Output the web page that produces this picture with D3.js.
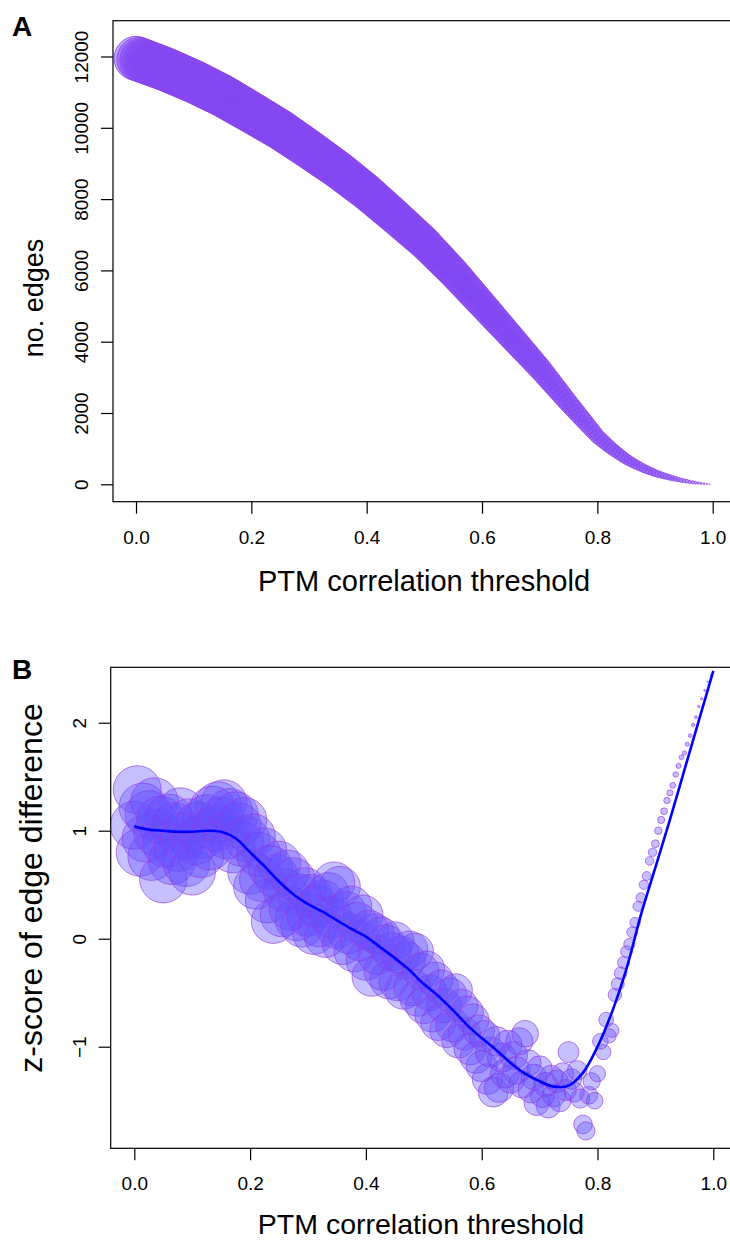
<!DOCTYPE html>
<html>
<head>
<meta charset="utf-8">
<script src="https://cdn.jsdelivr.net/npm/d3@7"></script>
<style>
  body { margin: 0; background: #fff; }
  svg { display: block; font-family: "Liberation Sans", Arial, Helvetica, sans-serif; }
</style>
</head>
<body>
<svg id="chart"></svg>
<script>
// PTM correlation thresholds (shared by both panels)
const thresholds = [
  0, 0.005, 0.01, 0.015, 0.02, 0.025, 0.03, 0.035, 0.04, 0.045,
  0.05, 0.055, 0.06, 0.065, 0.07, 0.075, 0.08, 0.085, 0.09, 0.095,
  0.1, 0.105, 0.11, 0.115, 0.12, 0.125, 0.13, 0.135, 0.14, 0.145,
  0.15, 0.155, 0.16, 0.165, 0.17, 0.175, 0.18, 0.185, 0.19, 0.195,
  0.2, 0.205, 0.21, 0.215, 0.22, 0.225, 0.23, 0.235, 0.24, 0.245,
  0.25, 0.255, 0.26, 0.265, 0.27, 0.275, 0.28, 0.285, 0.29, 0.295,
  0.3, 0.305, 0.31, 0.315, 0.32, 0.325, 0.33, 0.335, 0.34, 0.345,
  0.35, 0.355, 0.36, 0.365, 0.37, 0.375, 0.38, 0.385, 0.39, 0.395,
  0.4, 0.405, 0.41, 0.415, 0.42, 0.425, 0.43, 0.435, 0.44, 0.445,
  0.45, 0.455, 0.46, 0.465, 0.47, 0.475, 0.48, 0.485, 0.49, 0.495,
  0.5, 0.505, 0.51, 0.515, 0.52, 0.525, 0.53, 0.535, 0.54, 0.545,
  0.55, 0.555, 0.56, 0.565, 0.57, 0.575, 0.58, 0.585, 0.59, 0.595,
  0.6, 0.605, 0.61, 0.615, 0.62, 0.625, 0.63, 0.635, 0.64, 0.645,
  0.65, 0.655, 0.66, 0.665, 0.67, 0.675, 0.68, 0.685, 0.69, 0.695,
  0.7, 0.705, 0.71, 0.715, 0.72, 0.725, 0.73, 0.735, 0.74, 0.745,
  0.75, 0.755, 0.76, 0.765, 0.77, 0.775, 0.78, 0.785, 0.79, 0.795,
  0.8, 0.805, 0.81, 0.815, 0.82, 0.825, 0.83, 0.835, 0.84, 0.845,
  0.85, 0.855, 0.86, 0.865, 0.87, 0.875, 0.88, 0.885, 0.89, 0.895,
  0.9, 0.905, 0.91, 0.915, 0.92, 0.925, 0.93, 0.935, 0.94, 0.945,
  0.95, 0.955, 0.96, 0.965, 0.97, 0.975, 0.98, 0.985, 0.99, 0.995,
  1
];

// panel A: number of edges at each threshold
const edges = [
  11950, 11921, 11889, 11862, 11830, 11801, 11770, 11742, 11711, 11680,
  11650, 11616, 11582, 11545, 11511, 11475, 11441, 11405, 11371, 11335,
  11300, 11262, 11221, 11180, 11141, 11100, 11061, 11020, 10980, 10941,
  10900, 10854, 10807, 10760, 10712, 10666, 10619, 10572, 10524, 10478,
  10430, 10383, 10334, 10286, 10238, 10190, 10142, 10094, 10046, 9998,
  9950, 9896, 9840, 9785, 9730, 9676, 9620, 9566, 9510, 9455,
  9400, 9343, 9286, 9229, 9172, 9115, 9058, 9001, 8944, 8887,
  8830, 8767, 8704, 8641, 8578, 8515, 8452, 8389, 8326, 8263,
  8200, 8130, 8060, 7990, 7920, 7850, 7780, 7710, 7640, 7570,
  7500, 7428, 7356, 7284, 7212, 7140, 7068, 6996, 6924, 6852,
  6780, 6697, 6614, 6531, 6448, 6365, 6282, 6199, 6116, 6033,
  5950, 5860, 5770, 5680, 5590, 5500, 5410, 5320, 5230, 5140,
  5050, 4960, 4870, 4780, 4690, 4600, 4510, 4420, 4330, 4240,
  4150, 4060, 3970, 3880, 3790, 3700, 3610, 3520, 3430, 3340,
  3250, 3153, 3056, 2959, 2862, 2765, 2668, 2571, 2474, 2377,
  2280, 2187, 2094, 2001, 1908, 1815, 1722, 1629, 1536, 1443,
  1350, 1277, 1206, 1137, 1070, 1005, 942, 881, 822, 765,
  710, 662, 616, 572, 530, 490, 452, 416, 382, 350,
  315, 289, 264, 240, 217, 195, 174, 154, 135, 117,
  100, 85, 71, 58, 46, 35, 25, 17, 10, 4,
  0
];

// panel B: z-score of edge difference at each threshold
const zScores = [
  1.05, 1.38, 0.80, 1.22, 0.93, 1.15, 0.76, 1.27, 0.98, 1.10,
  0.55, 0.88, 1.12, 0.72, 1.04, 0.84, 1.18, 0.95, 0.70, 1.08,
  0.62, 0.90, 1.05, 0.78, 0.96, 1.12, 0.85, 1.20, 1.02, 1.24,
  1.10, 1.26, 0.95, 1.18, 0.82, 1.15, 1.05, 0.88, 1.10, 0.92,
  0.62, 0.95, 0.48, 0.78, 0.55, 0.82, 0.35, 0.66, 0.16, 0.58,
  0.70, 0.22, 0.45, 0.62, 0.28, 0.55, 0.18, 0.40, 0.12, 0.46,
  0.22, 0.40, 0.05, 0.30, 0.12, 0.35, 0.02, 0.42, 0.20, 0.52,
  0.10, 0.48, -0.05, 0.25, 0.05, 0.30, -0.12, 0.15, -0.02, 0.22,
  -0.20, 0.08, -0.35, 0.05, -0.15, 0.02, -0.30, -0.05, -0.38, -0.12,
  -0.02, -0.40, -0.15, -0.48, -0.20, -0.10, -0.45, -0.12, -0.55, -0.30,
  -0.62, -0.28, -0.50, -0.70, -0.38, -0.78, -0.45, -0.62, -0.85, -0.52,
  -0.80, -0.48, -0.95, -0.62, -0.88, -0.68, -1.02, -0.75, -1.10, -0.85,
  -1.18, -0.90, -1.30, -1.05, -1.42, -0.95, -1.38, -1.10, -1.25, -0.98,
  -1.30, -1.08, -1.22, -0.95, -1.35, -0.88, -1.15, -1.40, -1.28, -1.52,
  -1.20, -1.45, -1.35, -1.55, -1.28, -1.45, -1.32, -1.50, -1.25, -1.40,
  -1.05, -1.30, -1.42, -1.22, -1.48, -1.72, -1.78, -1.45, -1.32, -1.50,
  -1.25, -0.95, -1.05, -0.75, -0.90, -0.85, -0.52, -0.42, -0.32, -0.22,
  -0.12, -0.05, 0.06, 0.15, 0.30, 0.38, 0.50, 0.58, 0.72, 0.80,
  0.88, 1.00, 1.10, 1.18, 1.28, 1.35, 1.42, 1.52, 1.60, 1.68,
  1.72, 1.80, 1.88, 1.98, 2.05, 2.15, 2.22, 2.30, 2.38, 2.44,
  2.48
];

// panel B: smoothed fit
const smoothX = [
  0, 0.025, 0.05, 0.075, 0.1, 0.125, 0.15, 0.175, 0.2, 0.225,
  0.25, 0.275, 0.3, 0.325, 0.35, 0.375, 0.4, 0.425, 0.45, 0.475,
  0.5, 0.525, 0.55, 0.575, 0.6, 0.625, 0.65, 0.675, 0.7, 0.725,
  0.75, 0.775, 0.8, 0.825, 0.85, 0.875, 0.9, 0.925, 0.95, 0.975, 1
];
const smoothZ = [
  1.04, 1.01, 1.00, 0.99, 0.99, 1.00, 0.99, 0.93, 0.80, 0.67,
  0.53, 0.41, 0.32, 0.25, 0.17, 0.09, 0.02, -0.08, -0.18, -0.29,
  -0.42, -0.53, -0.66, -0.80, -0.92, -1.03, -1.15, -1.25, -1.32, -1.37,
  -1.36, -1.24, -1.00, -0.68, -0.28, 0.22, 0.66, 1.10, 1.56, 2.02, 2.48
];

const xTicks = [0, 0.2, 0.4, 0.6, 0.8, 1.0];
const edgeTicks = [0, 2000, 4000, 6000, 8000, 10000, 12000];
const zTicks = [-1, 0, 1, 2];

const width = 730;
const height = 1241;

const svg = d3.select('#chart')
    .attr('width', width)
    .attr('height', height);

// ---------- Panel A ----------
const boxA = {left: 113, top: 20.7, right: 740, bottom: 501.7};

const xA = d3.scaleLinear().domain([0, 1]).range([136, 712.7]);
const yA = d3.scaleLinear().domain([0, 12000]).range([484.3, 56.5]);
const rA = d3.scaleSqrt().domain([0, 12000]).range([0, 22]);

svg.append('clipPath').attr('id', 'clipA')
  .append('rect')
    .attr('x', boxA.left).attr('y', boxA.top)
    .attr('width', boxA.right - boxA.left).attr('height', boxA.bottom - boxA.top);

svg.append('g')
    .attr('clip-path', 'url(#clipA)')
  .selectAll('circle')
  .data(thresholds)
  .enter().append('circle')
    .attr('cx', d => xA(d))
    .attr('cy', (d, i) => yA(edges[i]))
    .attr('r', (d, i) => rA(edges[i]))
    .attr('fill', 'rgba(128,72,245,0.5)')
    .attr('stroke', 'rgba(140,70,235,0.85)')
    .attr('stroke-width', 1);

svg.append('rect')
    .attr('x', boxA.left).attr('y', boxA.top)
    .attr('width', boxA.right - boxA.left).attr('height', boxA.bottom - boxA.top)
    .attr('fill', 'none').attr('stroke', '#000').attr('stroke-width', 1.2);

const xAxisA = svg.append('g')
    .attr('transform', `translate(0,${boxA.bottom})`)
    .call(d3.axisBottom(xA).tickValues(xTicks).tickFormat(d3.format('.1f')).tickSize(12));
xAxisA.select('.domain').remove();
xAxisA.attr('font-size', 19).attr('font-family', null);
xAxisA.selectAll('line').attr('stroke', '#000').attr('stroke-width', 1.2);
xAxisA.selectAll('text').attr('y', 42).attr('dy', null).attr('fill', '#000');

const yAxisA = svg.append('g')
    .attr('transform', `translate(${boxA.left},0)`)
    .call(d3.axisLeft(yA).tickValues(edgeTicks).tickFormat(d3.format('d')).tickSize(12));
yAxisA.select('.domain').remove();
yAxisA.attr('font-size', 19).attr('font-family', null);
yAxisA.selectAll('line').attr('stroke', '#000').attr('stroke-width', 1.2);
yAxisA.selectAll('text')
    .attr('x', 0).attr('y', -25).attr('dy', null)
    .attr('text-anchor', 'middle')
    .attr('transform', 'rotate(-90)')
    .attr('fill', '#000');

svg.append('text')
    .attr('x', 424)
    .attr('y', 591)
    .attr('text-anchor', 'middle')
    .attr('font-size', 29)
    .text('PTM correlation threshold');

svg.append('text')
    .attr('transform', 'translate(43,298) rotate(-90)')
    .attr('text-anchor', 'middle')
    .attr('font-size', 27)
    .text('no. edges');

svg.append('text')
    .attr('x', 12).attr('y', 36)
    .attr('font-size', 28).attr('font-weight', 'bold')
    .text('A');

// ---------- Panel B ----------
const boxB = {left: 110.7, top: 667.3, right: 740, bottom: 1148.3};

const xB = d3.scaleLinear().domain([0, 1]).range([134.3, 713.3]);
const yB = d3.scaleLinear().domain([-1, 2]).range([1046.7, 722.7]);
const rB = d3.scaleSqrt().domain([0, 12000]).range([0, 24]);

svg.append('clipPath').attr('id', 'clipB')
  .append('rect')
    .attr('x', boxB.left).attr('y', boxB.top)
    .attr('width', boxB.right - boxB.left).attr('height', boxB.bottom - boxB.top);

const plotB = svg.append('g').attr('clip-path', 'url(#clipB)');

plotB.selectAll('circle')
  .data(thresholds)
  .enter().append('circle')
    .attr('cx', d => xB(d))
    .attr('cy', (d, i) => yB(zScores[i]))
    .attr('r', (d, i) => rB(edges[i]))
    .attr('fill', 'rgba(100,80,255,0.36)')
    .attr('stroke', 'rgba(150,55,225,0.65)')
    .attr('stroke-width', 1);

const smoothLine = d3.line()
    .x(d => xB(d))
    .y((d, i) => yB(smoothZ[i]))
    .curve(d3.curveCatmullRom);

plotB.append('path')
    .attr('d', smoothLine(smoothX))
    .attr('fill', 'none')
    .attr('stroke', '#0000ff')
    .attr('stroke-width', 2.6);

svg.append('rect')
    .attr('x', boxB.left).attr('y', boxB.top)
    .attr('width', boxB.right - boxB.left).attr('height', boxB.bottom - boxB.top)
    .attr('fill', 'none').attr('stroke', '#000').attr('stroke-width', 1.2);

const xAxisB = svg.append('g')
    .attr('transform', `translate(0,${boxB.bottom})`)
    .call(d3.axisBottom(xB).tickValues(xTicks).tickFormat(d3.format('.1f')).tickSize(12));
xAxisB.select('.domain').remove();
xAxisB.attr('font-size', 19).attr('font-family', null);
xAxisB.selectAll('line').attr('stroke', '#000').attr('stroke-width', 1.2);
xAxisB.selectAll('text').attr('y', 42).attr('dy', null).attr('fill', '#000');

const yAxisB = svg.append('g')
    .attr('transform', `translate(${boxB.left},0)`)
    .call(d3.axisLeft(yB).tickValues(zTicks).tickFormat(d3.format('d')).tickSize(12));
yAxisB.select('.domain').remove();
yAxisB.attr('font-size', 19).attr('font-family', null);
yAxisB.selectAll('line').attr('stroke', '#000').attr('stroke-width', 1.2);
yAxisB.selectAll('text')
    .attr('x', 0).attr('y', -25).attr('dy', null)
    .attr('text-anchor', 'middle')
    .attr('transform', 'rotate(-90)')
    .attr('fill', '#000');

svg.append('text')
    .attr('x', 421)
    .attr('y', 1234)
    .attr('text-anchor', 'middle')
    .attr('font-size', 28.5)
    .text('PTM correlation threshold');

svg.append('text')
    .attr('transform', 'translate(42,888) rotate(-90)')
    .attr('text-anchor', 'middle')
    .attr('font-size', 32)
    .text('z-score of edge difference');

svg.append('text')
    .attr('x', 12).attr('y', 679)
    .attr('font-size', 28).attr('font-weight', 'bold')
    .text('B');
</script>
</body>
</html>
